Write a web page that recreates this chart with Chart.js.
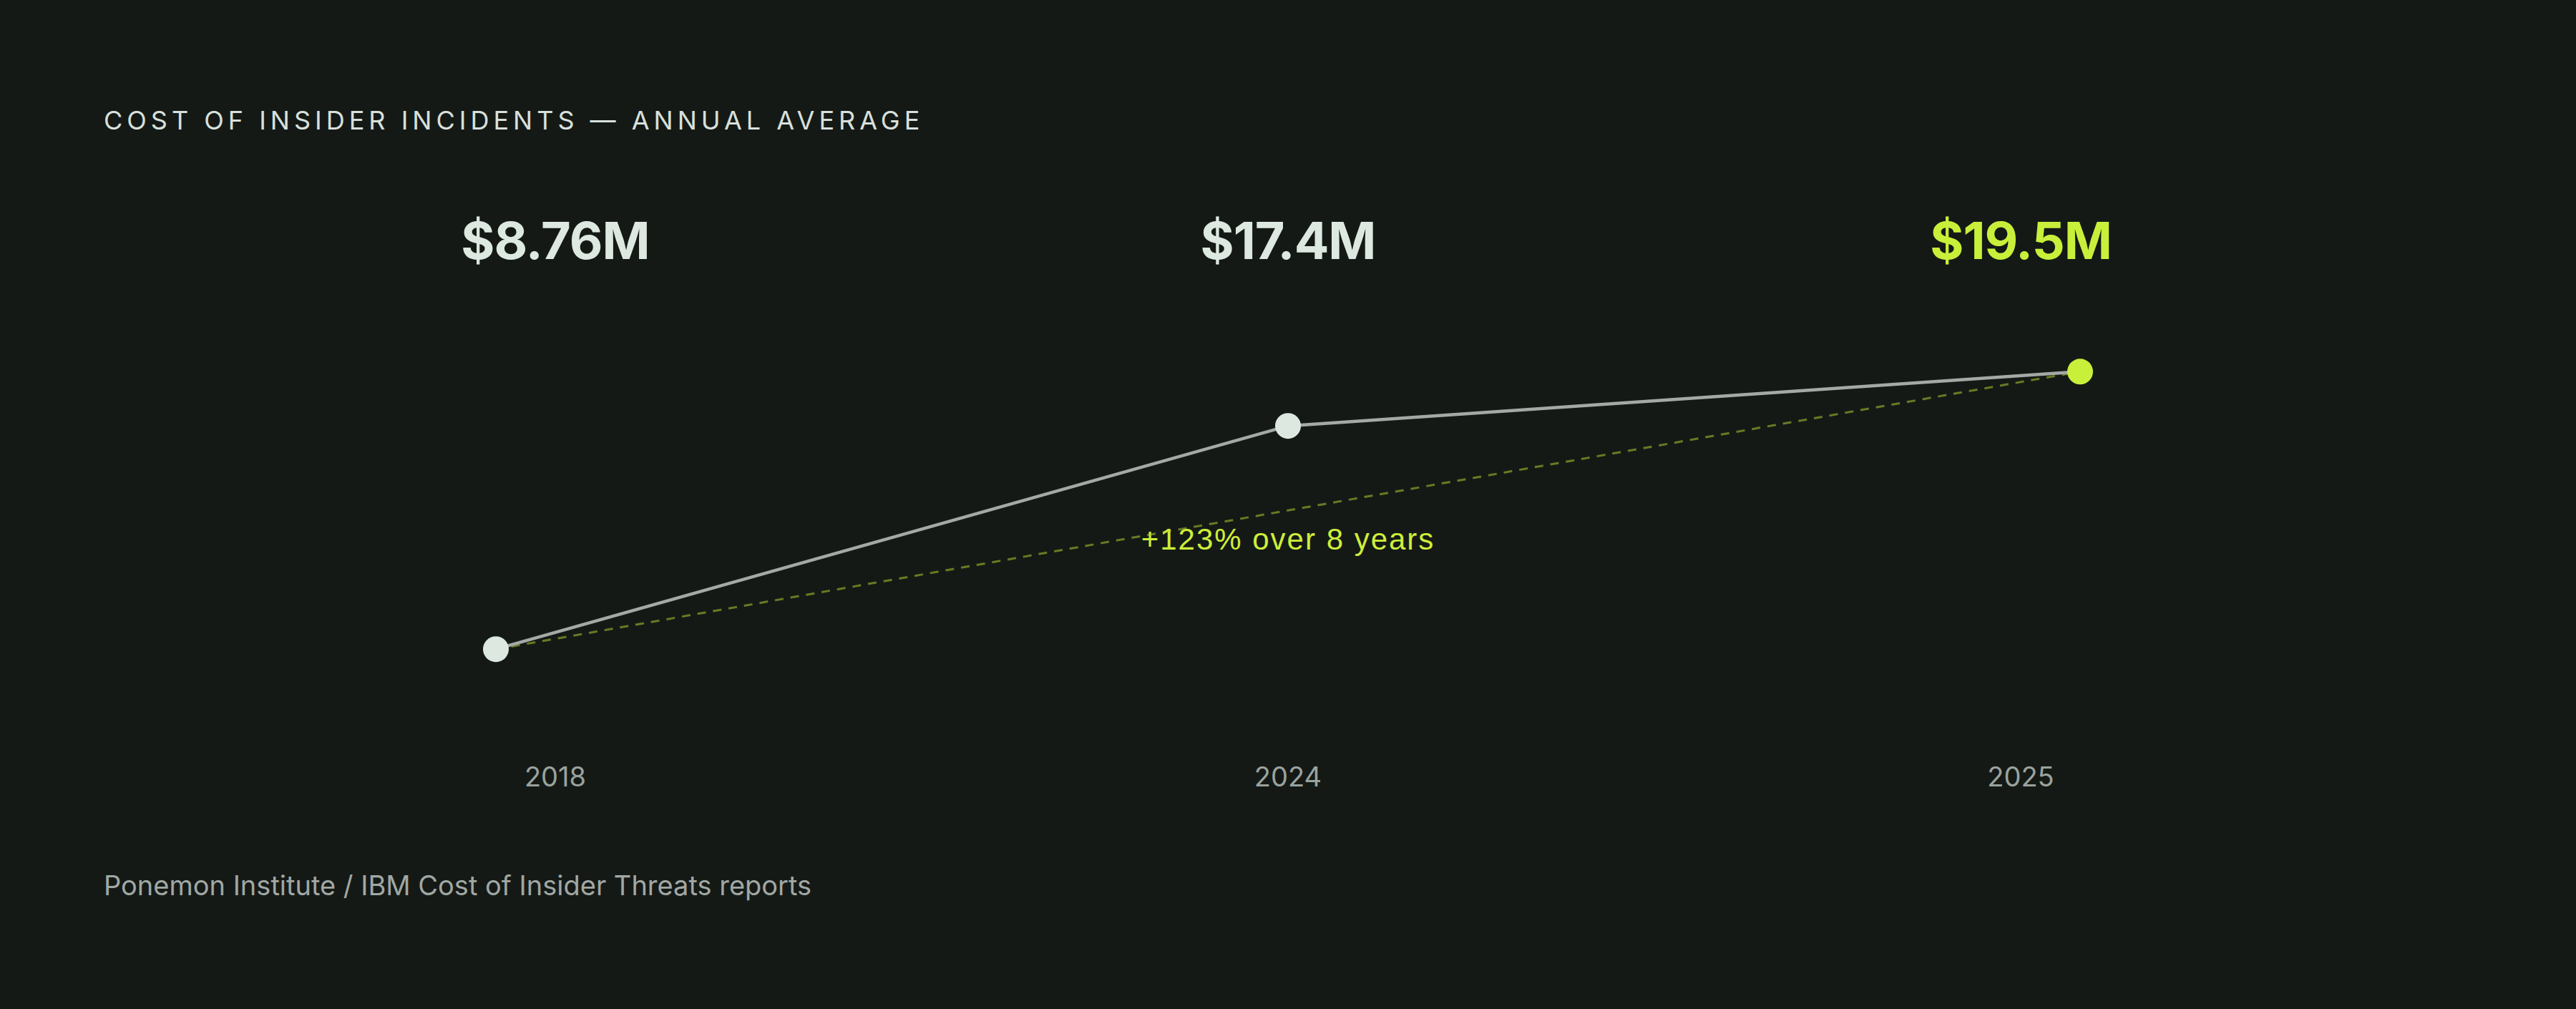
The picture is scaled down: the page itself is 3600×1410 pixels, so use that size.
<!DOCTYPE html>
<html><head><meta charset="utf-8">
<script src="https://cdn.jsdelivr.net/npm/chart.js@4"></script>
<style>
html,body{margin:0;padding:0;background:#151916;width:3600px;height:1410px;overflow:hidden;font-family:Inter,"Noto Sans",sans-serif}
#title{position:absolute;left:145px;top:146px;font-size:36px;letter-spacing:6px;color:#d8e0dc;font-weight:400}
.row{position:absolute;left:264px;width:3072px;display:flex}
.row div{flex:1;text-align:center}
#vals{top:292px;font-size:72px;font-weight:700;color:#dce8e0;letter-spacing:-1px}
#ticks{top:1062px;font-size:38px;color:#9aa39e}
#note{position:absolute;left:1800px;top:730px;transform:translateX(-50%);font-family:"Liberation Sans",Arial,sans-serif;font-size:42px;letter-spacing:2px;color:#cdee3a;white-space:nowrap}
#src{position:absolute;left:145px;top:1214px;font-size:38px;color:#a0a8a4}
#wrap{position:absolute;left:653px;top:389px;width:2294px;height:694px}
</style></head><body>
<div id="title">COST OF INSIDER INCIDENTS — ANNUAL AVERAGE</div>
<div id="vals" class="row"></div>
<div id="ticks" class="row"></div>
<div id="note"></div>
<div id="src">Ponemon Institute / IBM Cost of Insider Threats reports</div>
<div id="wrap"><canvas id="c" width="2294" height="694"></canvas></div>
<script>
const years = ["2018","2024","2025"];
const costs = [8.76, 17.4, 19.5];
const valueLabels = ["$8.76M","$17.4M","$19.5M"];
const trend = [8.76, null, 19.5];
const note = "+123% over 8 years";

const vals=document.getElementById('vals'), ticks=document.getElementById('ticks');
valueLabels.forEach((v,i)=>{const d=document.createElement('div');d.textContent=v;if(i===2)d.style.color='#c8f03a';vals.appendChild(d);});
years.forEach(y=>{const d=document.createElement('div');d.textContent=y;ticks.appendChild(d);});
document.getElementById('note').textContent=note;

new Chart(document.getElementById('c'),{
  type:'line',
  data:{labels:years,datasets:[
    {data:trend,spanGaps:true,borderColor:'rgba(190,220,50,0.5)',borderWidth:3,borderDash:[12,10],pointRadius:0,order:2},
    {data:costs,borderColor:'#a3aaa6',borderWidth:4.5,pointRadius:18,pointHoverRadius:18,
     pointBackgroundColor:['#dce8e0','#dce8e0','#c8f03a'],pointBorderWidth:0,order:1}
  ]},
  options:{responsive:false,animation:false,clip:false,
    layout:{padding:{left:40,right:40,top:40,bottom:40}},
    plugins:{legend:{display:false},tooltip:{enabled:false}},
    scales:{
      x:{display:false,offset:false},
      y:{display:false,min:5,max:22}
    }}
});
</script>
</body></html>
